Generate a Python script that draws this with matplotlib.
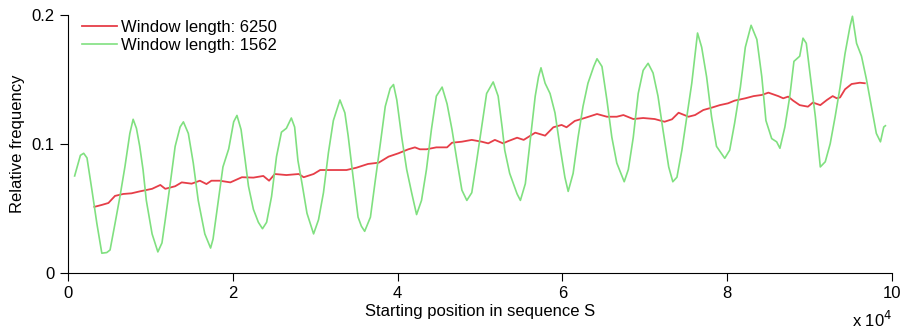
import matplotlib
matplotlib.use("Agg")
import matplotlib.pyplot as plt

plt.rcParams['font.family'] = ['Liberation Sans', 'DejaVu Sans']

# positions in units of 10^4
red_x = [0.32, 0.41, 0.49, 0.57, 0.67, 0.77, 0.87, 1.02, 1.12, 1.18, 1.30, 1.38, 1.50, 1.60, 1.68,
         1.74, 1.84, 1.97, 2.11, 2.25, 2.37, 2.44, 2.51, 2.65, 2.80, 2.86, 2.98, 3.06, 3.22, 3.38,
         3.50, 3.64, 3.77, 3.89, 4.01, 4.13, 4.21, 4.27, 4.35, 4.47, 4.60, 4.66, 4.78, 4.90, 5.02,
         5.10, 5.18, 5.28, 5.34, 5.45, 5.53, 5.67, 5.79, 5.89, 5.99, 6.05, 6.15, 6.27, 6.42, 6.54,
         6.66, 6.74, 6.86, 6.98, 7.12, 7.24, 7.33, 7.41, 7.53, 7.61, 7.71, 7.81, 7.91, 8.01, 8.09,
         8.22, 8.32, 8.42, 8.50, 8.62, 8.68, 8.74, 8.80, 8.88, 8.98, 9.04, 9.13, 9.21, 9.28, 9.33,
         9.37, 9.43, 9.51, 9.61, 9.67]
red_y = [0.051, 0.0525, 0.054, 0.0595, 0.061, 0.0615, 0.063, 0.065, 0.068, 0.065, 0.067, 0.070, 0.069,
         0.0713, 0.0687, 0.0713, 0.0713, 0.070, 0.074, 0.0737, 0.075, 0.0713, 0.0765, 0.0757, 0.0765,
         0.074, 0.0765, 0.0796, 0.0796, 0.0796, 0.0814, 0.0843, 0.0853, 0.090, 0.0926, 0.0957, 0.0972,
         0.0957, 0.0957, 0.0972, 0.0972, 0.1008, 0.1016, 0.103, 0.1016, 0.1003, 0.103, 0.1003, 0.102,
         0.1047, 0.103, 0.1086, 0.1063, 0.1128, 0.1146, 0.1128, 0.1177, 0.120, 0.1231, 0.121, 0.121,
         0.1223, 0.1192, 0.120, 0.1192, 0.1171, 0.119, 0.1241, 0.121, 0.1223, 0.1262, 0.128, 0.130,
         0.1314, 0.1335, 0.1353, 0.137, 0.1379, 0.1397, 0.137, 0.1353, 0.1366, 0.1335, 0.130, 0.1288,
         0.132, 0.130, 0.134, 0.137, 0.1353, 0.136, 0.1423, 0.1464, 0.1474, 0.147]

green_x = [0.08, 0.15, 0.19, 0.23, 0.29, 0.35, 0.41, 0.47, 0.51, 0.57, 0.63, 0.69, 0.75, 0.79, 0.83,
           0.87, 0.91, 0.95, 1.02, 1.09, 1.14, 1.18, 1.24, 1.30, 1.36, 1.40, 1.46, 1.52, 1.58, 1.66,
           1.73, 1.76, 1.82, 1.88, 1.95, 2.01, 2.05, 2.10, 2.15, 2.19, 2.25, 2.31, 2.36, 2.41, 2.47,
           2.53, 2.59, 2.65, 2.71, 2.75, 2.79, 2.84, 2.90, 2.98, 3.04, 3.10, 3.16, 3.22, 3.30, 3.36,
           3.40, 3.46, 3.52, 3.56, 3.60, 3.67, 3.73, 3.79, 3.85, 3.91, 3.95, 3.99, 4.05, 4.11, 4.17,
           4.23, 4.29, 4.35, 4.41, 4.47, 4.54, 4.60, 4.66, 4.72, 4.78, 4.84, 4.90, 4.96, 5.02, 5.08,
           5.16, 5.22, 5.27, 5.30, 5.36, 5.45, 5.49, 5.55, 5.61, 5.67, 5.71, 5.74, 5.79, 5.85, 5.91,
           5.97, 6.03, 6.07, 6.13, 6.19, 6.25, 6.31, 6.38, 6.42, 6.48, 6.54, 6.60, 6.66, 6.75, 6.80,
           6.86, 6.92, 6.98, 7.04, 7.10, 7.16, 7.22, 7.29, 7.34, 7.39, 7.45, 7.51, 7.57, 7.64, 7.69,
           7.75, 7.81, 7.87, 7.97, 8.03, 8.09, 8.16, 8.22, 8.29, 8.36, 8.42, 8.47, 8.54, 8.60, 8.64,
           8.70, 8.76, 8.81, 8.88, 8.92, 8.96, 9.00, 9.07, 9.13, 9.19, 9.25, 9.31, 9.37, 9.43, 9.49,
           9.52, 9.57, 9.63, 9.69, 9.75, 9.81, 9.86, 9.90, 9.92]
green_y = [0.075, 0.091, 0.0926, 0.089, 0.064, 0.038, 0.015, 0.0155, 0.0175, 0.038, 0.059, 0.082, 0.108,
           0.119, 0.112, 0.098, 0.080, 0.056, 0.030, 0.016, 0.023, 0.041, 0.069, 0.098, 0.113, 0.117,
           0.108, 0.085, 0.056, 0.030, 0.019, 0.026, 0.054, 0.082, 0.096, 0.117, 0.122, 0.111, 0.087,
           0.067, 0.049, 0.039, 0.034, 0.039, 0.059, 0.090, 0.109, 0.112, 0.120, 0.113, 0.087, 0.069,
           0.046, 0.030, 0.041, 0.062, 0.093, 0.118, 0.134, 0.124, 0.106, 0.074, 0.043, 0.036, 0.032,
           0.043, 0.072, 0.100, 0.129, 0.143, 0.146, 0.134, 0.105, 0.080, 0.062, 0.045, 0.056, 0.080,
           0.111, 0.137, 0.144, 0.131, 0.111, 0.087, 0.064, 0.056, 0.062, 0.087, 0.113, 0.139, 0.148,
           0.137, 0.112, 0.095, 0.077, 0.061, 0.056, 0.069, 0.103, 0.137, 0.152, 0.159, 0.147, 0.139,
           0.124, 0.098, 0.074, 0.063, 0.077, 0.105, 0.129, 0.147, 0.160, 0.166, 0.160, 0.134, 0.105,
           0.085, 0.0705, 0.080, 0.105, 0.139, 0.157, 0.1625, 0.155, 0.137, 0.111, 0.082, 0.0705,
           0.074, 0.095, 0.121, 0.147, 0.186, 0.175, 0.152, 0.121, 0.098, 0.0887, 0.095, 0.116, 0.144,
           0.175, 0.192, 0.181, 0.152, 0.118, 0.104, 0.1015, 0.0965, 0.113, 0.137, 0.164, 0.168, 0.182,
           0.178, 0.157, 0.121, 0.082, 0.086, 0.100, 0.121, 0.144, 0.170, 0.191, 0.199, 0.178, 0.168,
           0.150, 0.129, 0.108, 0.1015, 0.113, 0.114]

fig = plt.figure(figsize=(9, 3.31), dpi=100)
ax = fig.add_axes([0.0756, 0.1767, 0.9155, 0.778])

ax.plot(red_x, red_y, color='#e63e48', lw=1.3, label='Window length: 6250')
ax.plot(green_x, green_y, color='#80e080', lw=1.2, label='Window length: 1562')

ax.set_xlim(0, 10)
ax.set_ylim(0, 0.2)
ax.set_xticks([0, 2, 4, 6, 8, 10])
ax.set_xticklabels(['0', '2', '4', '6', '8', '10'])
ax.set_yticks([0, 0.1, 0.2])
ax.set_yticklabels(['0', '0.1', '0.2'])
ax.spines['top'].set_visible(False)
ax.spines['right'].set_visible(False)
ax.tick_params(direction='out', length=6, width=0.8, labelsize=12, pad=4)

ax.set_xlabel('Starting position in sequence S', fontsize=12, labelpad=2)
ax.set_ylabel('Relative frequency', fontsize=12, labelpad=4)
ax.text(1.0, -0.185, r'x 10$^4$', transform=ax.transAxes, ha='right', va='center', fontsize=12)

ax.legend(loc='upper left', frameon=False, fontsize=12, handlelength=2.1,
          handletextpad=0.25, labelspacing=0.2, borderaxespad=0, borderpad=0,
          bbox_to_anchor=(0.017, 0.982))

fig.savefig('out.png', dpi=100)
